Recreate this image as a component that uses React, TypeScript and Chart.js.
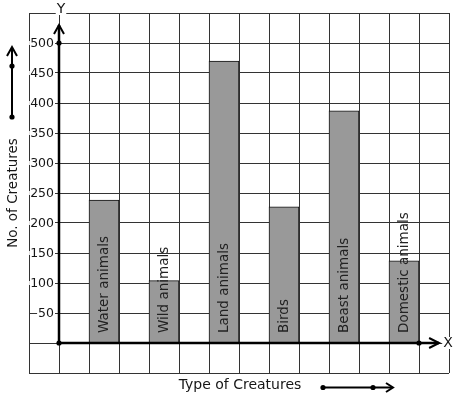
import React, { useEffect, useRef } from "react";
import { Chart, registerables } from "chart.js";

Chart.register(...registerables);

// ---- data ----
const categories = ["Water animals", "Wild animals", "Land animals", "Birds", "Beast animals", "Domestic animals"];
const creatureCounts = [238, 104, 470, 227, 387, 137];
// bar centres in grid-column units (each grid column = 1 unit, Y axis at 0)
const barSlots = [1.5, 3.5, 5.5, 7.5, 9.5, 11.5];
const yTickValues = [50, 100, 150, 200, 250, 300, 350, 400, 450, 500];
const xAxisTitle = "Type of Creatures";
const yAxisTitle = "No. of Creatures";

const FONT = "'DejaVu Sans', Verdana, sans-serif";
const TEXT = "#161616";

const graphPaper = {
  id: "graphPaper",
  afterDatasetsDraw(chart: any) {
    const ctx: CanvasRenderingContext2D = chart.ctx;
    const xs = chart.scales.x;
    const ys = chart.scales.y;
    const area = chart.chartArea;
    const ox = xs.getPixelForValue(0);
    const oy = ys.getPixelForValue(0);
    ctx.save();

    // y tick labels with white background over grid lines
    ctx.font = `12.5px ${FONT}`;
    ctx.textAlign = "right";
    ctx.textBaseline = "middle";
    yTickValues.forEach((v) => {
      const py = ys.getPixelForValue(v);
      const t = String(v);
      const w = ctx.measureText(t).width;
      ctx.fillStyle = "#fff";
      ctx.fillRect(ox - 5 - w - 1, py - 2, w + 2, 4);
      ctx.fillStyle = TEXT;
      ctx.fillText(t, ox - 5, py + 0.5);
    });

    // bar labels (rotated)
    ctx.font = `13.5px ${FONT}`;
    ctx.fillStyle = "#222";
    categories.forEach((c, i) => {
      const px = xs.getPixelForValue(barSlots[i]);
      ctx.save();
      ctx.translate(px + 0.5, oy - 10);
      ctx.rotate(-Math.PI / 2);
      ctx.textAlign = "left";
      ctx.textBaseline = "middle";
      ctx.fillText(c, 0, 0);
      ctx.restore();
    });

    // axes
    ctx.strokeStyle = "#000";
    ctx.fillStyle = "#000";
    ctx.lineWidth = 2.5;
    const yTop = ys.getPixelForValue(530);
    const xEnd = xs.getPixelForValue(12.67);
    ctx.beginPath();
    ctx.moveTo(ox, oy);
    ctx.lineTo(ox, yTop);
    ctx.stroke();
    ctx.beginPath();
    ctx.moveTo(ox, oy);
    ctx.lineTo(xEnd, oy);
    ctx.stroke();
    ctx.lineWidth = 2;
    ctx.beginPath();
    ctx.moveTo(ox - 5, yTop + 9);
    ctx.lineTo(ox, yTop);
    ctx.lineTo(ox + 5, yTop + 9);
    ctx.stroke();
    ctx.beginPath();
    ctx.moveTo(xEnd - 10, oy - 5);
    ctx.lineTo(xEnd, oy);
    ctx.lineTo(xEnd - 10, oy + 5);
    ctx.stroke();

    const dot = (x: number, y: number) => {
      ctx.beginPath();
      ctx.arc(x, y, 2.6, 0, Math.PI * 2);
      ctx.fill();
    };
    dot(ox, oy);
    dot(ox, ys.getPixelForValue(500));
    dot(xs.getPixelForValue(12), oy);

    // axis letters
    ctx.font = `14px ${FONT}`;
    ctx.textAlign = "center";
    ctx.textBaseline = "middle";
    const letter = (t: string, x: number, y: number) => {
      const w = ctx.measureText(t).width;
      ctx.fillStyle = "#fff";
      ctx.fillRect(x - w / 2 - 1, y - 6, w + 2, 12);
      ctx.fillStyle = TEXT;
      ctx.fillText(t, x, y);
    };
    letter("Y", ox + 2, area.top - 4);
    letter("X", area.right - 1, oy);

    // left axis title + arrow
    const midY = (area.top + area.bottom) / 2;
    ctx.save();
    ctx.translate(13, midY);
    ctx.rotate(-Math.PI / 2);
    ctx.font = `13.5px ${FONT}`;
    ctx.fillStyle = TEXT;
    ctx.textAlign = "center";
    ctx.textBaseline = "middle";
    ctx.fillText(yAxisTitle, 0, 0);
    ctx.restore();

    ctx.strokeStyle = "#000";
    ctx.fillStyle = "#000";
    ctx.lineWidth = 2;
    ctx.beginPath();
    ctx.moveTo(12, 117);
    ctx.lineTo(12, 48);
    ctx.stroke();
    ctx.beginPath();
    ctx.moveTo(7, 56);
    ctx.lineTo(12, 47);
    ctx.lineTo(17, 56);
    ctx.stroke();
    dot(12, 66);
    dot(12, 117);

    // bottom axis title + arrow
    const midX = (area.left + area.right) / 2;
    ctx.font = `14px ${FONT}`;
    ctx.fillStyle = TEXT;
    ctx.textAlign = "center";
    ctx.textBaseline = "middle";
    ctx.fillText(xAxisTitle, midX + 1, 385);

    ctx.strokeStyle = "#000";
    ctx.fillStyle = "#000";
    ctx.lineWidth = 2;
    ctx.beginPath();
    ctx.moveTo(323, 387.5);
    ctx.lineTo(392, 387.5);
    ctx.stroke();
    ctx.beginPath();
    ctx.moveTo(386, 383);
    ctx.lineTo(393, 387.5);
    ctx.lineTo(386, 392);
    ctx.stroke();
    dot(323, 387.5);
    dot(373, 387.5);

    ctx.restore();
  },
};

export default function App() {
  const ref = useRef<HTMLCanvasElement | null>(null);
  useEffect(() => {
    if (!ref.current) return;
    const chart = new Chart(ref.current, {
      type: "bar",
      data: {
        datasets: [
          {
            data: creatureCounts.map((v, i) => ({ x: barSlots[i], y: v })),
            backgroundColor: "#999999",
            borderColor: "#111",
            borderWidth: 1,
            barPercentage: 1,
            categoryPercentage: 1,
          },
        ],
      },
      options: {
        animation: false,
        responsive: false,
        devicePixelRatio: 1,
        layout: { padding: { left: 29, right: 8, top: 13, bottom: 26 } },
        plugins: { legend: { display: false }, tooltip: { enabled: false }, title: { display: false } },
        scales: {
          x: {
            type: "linear",
            offset: false,
            min: -1,
            max: 13,
            ticks: { display: false, stepSize: 1 },
            grid: { color: "#333", lineWidth: 1, drawTicks: false, offset: false },
            border: { display: false },
          },
          y: {
            type: "linear",
            min: -50,
            max: 550,
            ticks: { display: false, stepSize: 50 },
            grid: { color: "#333", lineWidth: 1, drawTicks: false },
            border: { display: false },
          },
        },
      },
      plugins: [graphPaper],
    } as any);
    return () => chart.destroy();
  }, []);
  return (
    <div style={{ position: "fixed", left: 0, top: 0, width: 457, height: 399, background: "#fff" }}>
      <canvas ref={ref} width={457} height={399} style={{ display: "block" }} />
    </div>
  );
}
